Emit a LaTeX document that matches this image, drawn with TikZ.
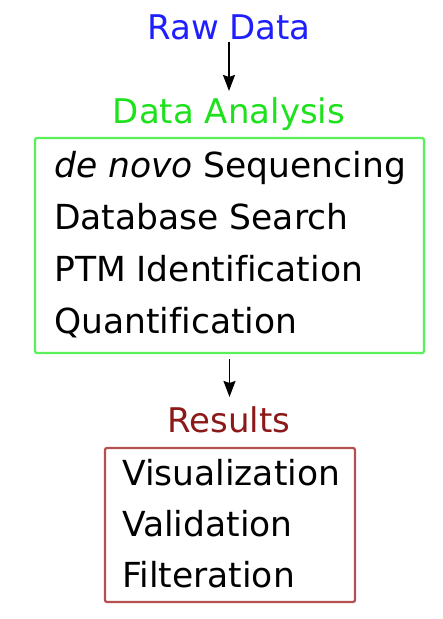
\documentclass[tikz,border=0pt]{standalone}
\usepackage{fontspec}
\setmainfont[Ligatures=NoCommon]{DejaVu Sans}
\usetikzlibrary{arrows.meta}
\definecolor{rawblue}{RGB}{30,30,255}
\definecolor{anagreen}{RGB}{30,225,30}
\definecolor{boxgreen}{RGB}{90,240,90}
\definecolor{resred}{RGB}{140,25,25}
\definecolor{boxred}{RGB}{180,80,80}
\begin{document}
\begin{tikzpicture}[x=1pt,y=-1pt,
  title/.style={inner sep=0pt,anchor=base,font=\fontsize{34}{40}\selectfont},
  item/.style={inner sep=0pt,anchor=base west,font=\fontsize{34.5}{41}\selectfont,text=black},
  frame/.style={draw,line width=2.2pt,rounded corners=2pt,inner sep=0pt},
  flow/.style={-{Stealth[length=16pt,width=12pt,inset=2pt]},line width=1.5pt,black}]
\useasboundingbox (0,0) rectangle (443,619);
\node[title,text=rawblue] (raw) at (229,39) {Raw Data};
\node[title,text=anagreen] (ana) at (229,123) {Data Analysis};
\node[frame,draw=boxgreen,minimum width=389pt,minimum height=215pt] (box1) at (229.5,245.5) {};
\node[item] (l1) at (54,177) {\textit{de novo} Sequencing};
\node[item] (l2) at (54,229) {Database Search};
\node[item] (l3) at (54,281) {PTM Identification};
\node[item] (l4) at (54,333) {Quantification};
\node[title,text=resred] (res) at (229,432) {Results};
\node[frame,draw=boxred,minimum width=250pt,minimum height=154pt] (box2) at (230,525) {};
\node[item] (m1) at (122,485) {Visualization};
\node[item] (m2) at (122,536) {Validation};
\node[item] (m3) at (122,587) {Filteration};
\draw[flow,shorten <=2pt,shorten >=6pt] (raw.south) -- (raw.south |- ana.north);
\draw[flow,shorten <=5pt,shorten >=9pt] (box1.south) -- (box1.south |- res.north);
\end{tikzpicture}
\end{document}
